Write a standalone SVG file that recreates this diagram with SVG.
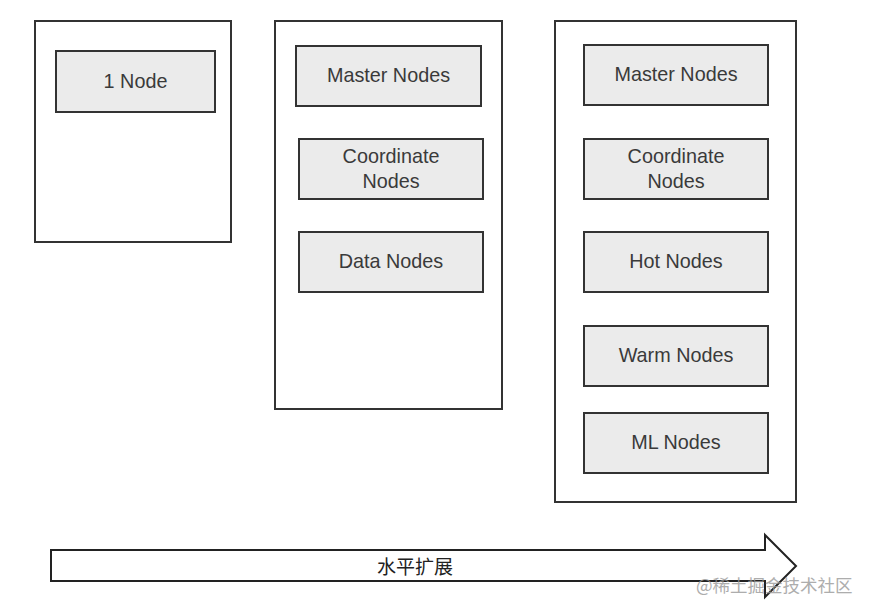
<svg xmlns="http://www.w3.org/2000/svg" width="870" height="616" viewBox="0 0 870 616">
<style>
.frame{fill:#ffffff;stroke:#333333;stroke-width:2}
.node{fill:#ebebeb;stroke:#333333;stroke-width:2}
.lbl{font-family:"Liberation Sans",Arial,sans-serif;font-size:19.8px;fill:#3a3a3a;text-anchor:middle;dominant-baseline:central}
.cjk{font-family:"Noto Sans CJK SC",sans-serif;font-size:19px;fill:#222222;text-anchor:middle;dominant-baseline:central}
.wm{font-family:"Noto Sans CJK SC",sans-serif;font-size:17.5px;fill:#999999;opacity:0.8}
</style>
<rect width="870" height="616" fill="#ffffff"/>
<g id="cluster1">
<rect class="frame" x="35" y="21" width="196" height="221"/>
<g id="n1node"><rect class="node" x="56" y="51" width="159" height="61"/><text class="lbl" x="135.5" y="81">1 Node</text></g>
</g>
<g id="cluster2">
<rect class="frame" x="275" y="21" width="227" height="388"/>
<g id="c2master"><rect class="node" x="296" y="46" width="185" height="60"/><text class="lbl" x="388.5" y="75">Master Nodes</text></g>
<g id="c2coord"><rect class="node" x="299" y="139" width="184" height="60"/><text class="lbl" x="391" y="156">Coordinate</text><text class="lbl" x="391" y="181">Nodes</text></g>
<g id="c2data"><rect class="node" x="299" y="232" width="184" height="60"/><text class="lbl" x="391" y="261">Data Nodes</text></g>
</g>
<g id="cluster3">
<rect class="frame" x="555" y="21" width="241" height="481"/>
<g id="c3master"><rect class="node" x="584" y="45" width="184" height="60"/><text class="lbl" x="676" y="74">Master Nodes</text></g>
<g id="c3coord"><rect class="node" x="584" y="139" width="184" height="60"/><text class="lbl" x="676" y="156">Coordinate</text><text class="lbl" x="676" y="181">Nodes</text></g>
<g id="c3hot"><rect class="node" x="584" y="232" width="184" height="60"/><text class="lbl" x="676" y="261">Hot Nodes</text></g>
<g id="c3warm"><rect class="node" x="584" y="326" width="184" height="60"/><text class="lbl" x="676" y="355">Warm Nodes</text></g>
<g id="c3ml"><rect class="node" x="584" y="413" width="184" height="60"/><text class="lbl" x="676" y="442">ML Nodes</text></g>
</g>
<g id="connectors">
<polygon points="51,550 765,550 765,535 796,566 765,597 765,581 51,581" fill="#ffffff" stroke="#222222" stroke-width="2"/>
<text class="cjk" x="415" y="565">水平扩展</text>
</g>
<text class="wm" x="696" y="592">@稀土掘金技术社区</text>
</svg>
